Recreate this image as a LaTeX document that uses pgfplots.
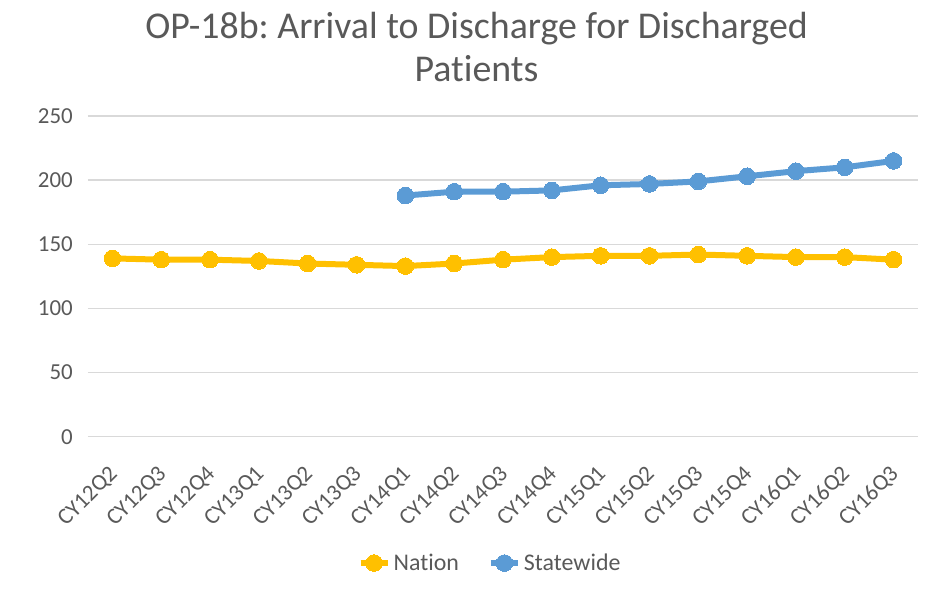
\documentclass[border=0pt]{standalone}
\usepackage{pgfplots}
\pgfplotsset{compat=1.18}
\usepackage{fontspec}
\setmainfont{Carlito}[Ligatures={NoCommon}]
\definecolor{nation}{HTML}{FFC000}
\definecolor{state}{HTML}{5B9BD5}
\definecolor{gridc}{HTML}{D9D9D9}
\definecolor{txt}{HTML}{595959}
\frenchspacing
\begin{document}
\begin{tikzpicture}
\begin{axis}[
  scale only axis, width=830bp, height=320.7bp,
  xmin=-0.5, xmax=16.5, ymin=0, ymax=250,
  ytick={0,50,100,150,200,250},
  xtick={0,...,16},
  xticklabels={CY12Q2,CY12Q3,CY12Q4,CY13Q1,CY13Q2,CY13Q3,CY14Q1,CY14Q2,CY14Q3,CY14Q4,CY15Q1,CY15Q2,CY15Q3,CY15Q4,CY16Q1,CY16Q2,CY16Q3},
  axis line style={draw=none},
  major tick length=0pt,
  ymajorgrids, grid style={gridc, line width=1.5bp},
  tick label style={font=\fontsize{23}{27}\selectfont, text=txt},
  /pgf/number format/assume math mode=true,
  yticklabel style={anchor=east, inner sep=0pt, xshift=-15bp},
  xticklabel style={inner sep=0pt, xshift=6bp, yshift=-38bp, rotate=45, anchor=base east},
  clip=false,
  legend columns=2,
  legend style={at={(0.485,-0.394)}, anchor=center, draw=none, fill=none,
    font=\fontsize{24}{28}\selectfont, text=txt,
    nodes={inner xsep=3bp},
    /tikz/every even column/.append style={column sep=26bp}},
  legend image code/.code={\draw[mark repeat=2,mark phase=2] plot coordinates {(0bp,0bp) (13.5bp,0bp) (27bp,0bp)};},
]
\addplot[nation, line width=6bp, line join=round, mark=*, mark size=8.3bp, mark options={solid, fill=nation, draw=nation, line width=0pt}]
coordinates {(0,139)(1,138)(2,138)(3,137)(4,135)(5,134)(6,133)(7,135)(8,138)(9,140)(10,141)(11,141)(12,142)(13,141)(14,140)(15,140)(16,138)};
\addlegendentry{Nation}
\addplot[state, line width=6bp, line join=round, mark=*, mark size=8.3bp, mark options={solid, fill=state, draw=state, line width=0pt}]
coordinates {(6,188)(7,191)(8,191)(9,192)(10,196)(11,197)(12,199)(13,203)(14,207)(15,210)(16,215)};
\addlegendentry{Statewide}
\end{axis}
\node[anchor=base, text=txt, font=\fontsize{38}{43}\selectfont, inner sep=0pt] at (388.5bp,398.4bp) {OP-18b: Arrival to Discharge for Discharged};
\node[anchor=base, text=txt, font=\fontsize{38}{43}\selectfont, inner sep=0pt] at (388.5bp,355bp) {Patients};
\pgfresetboundingbox
\useasboundingbox (-88bp,-162.3bp) rectangle (845bp,436.7bp);
\end{tikzpicture}
\end{document}
